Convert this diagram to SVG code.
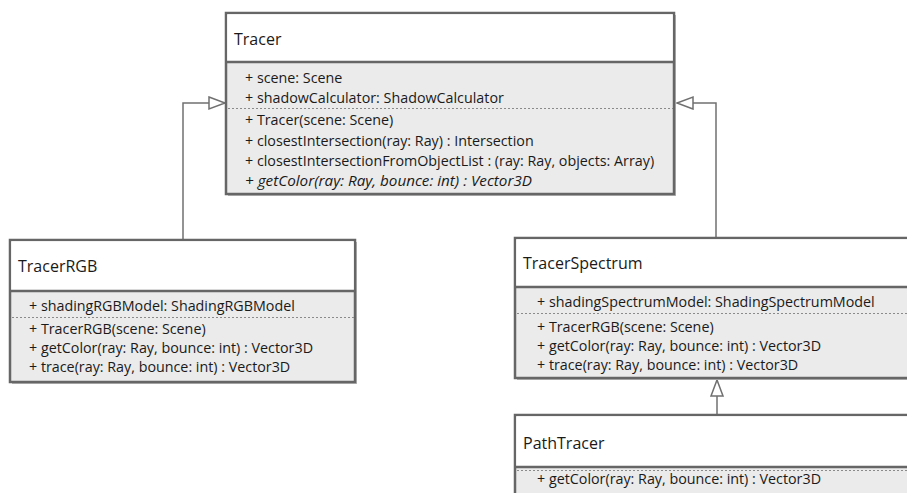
<svg xmlns="http://www.w3.org/2000/svg" width="907" height="493" viewBox="0 0 907 493">
  <style>
    .shadow { fill: #b8b8b8; }
    .box { fill: #ebebeb; stroke: #666666; stroke-width: 2.5; }
    .head { fill: #ffffff; }
    .sep { stroke: #666666; stroke-width: 2.5; }
    .dash { stroke: #8a8a8a; stroke-width: 1; stroke-dasharray: 2 2; }
    .title { font-family: "Open Sans", "Liberation Sans", Arial, sans-serif; font-size: 16px; fill: #1a1a1a; }
    .mem { font-family: "Open Sans", "Liberation Sans", Arial, sans-serif; font-size: 14.3px; fill: #1a1a1a; }
    .it { font-style: italic; }
    .conn { fill: none; stroke: #707070; stroke-width: 1.5; }
  </style>
  <defs>
    <marker id="gen" viewBox="-1 -1 18 14" refX="16" refY="6" markerWidth="18" markerHeight="14" markerUnits="userSpaceOnUse" orient="auto" overflow="visible">
      <path d="M0,0 L16,6 L0,12 Z" fill="#ffffff" stroke="#707070" stroke-width="1.5"/>
    </marker>
  </defs>

  <g id="connectors">
    <path class="conn" d="M183,240 V103 H225" marker-end="url(#gen)"/>
    <path class="conn" d="M716,238 V103 H677" marker-end="url(#gen)"/>
    <path class="conn" d="M717,415 V380" marker-end="url(#gen)"/>
  </g>

  <g id="Tracer">
    <rect class="shadow" x="228" y="15" width="448" height="181"/>
    <rect class="box" x="226" y="13" width="448" height="181"/>
    <rect class="head" x="227.25" y="14.25" width="445.5" height="47.75"/>
    <line class="sep" x1="226" y1="62" x2="674" y2="62"/>
    <text class="title" x="234" y="45">Tracer</text>
    <text class="mem" x="245" y="83">+ scene: Scene</text>
    <text class="mem" x="245" y="103">+ shadowCalculator: ShadowCalculator</text>
    <line class="dash" x1="228" y1="108.5" x2="673" y2="108.5"/>
    <text class="mem" x="245" y="125">+ Tracer(scene: Scene)</text>
    <text class="mem" x="245" y="146">+ closestIntersection(ray: Ray) : Intersection</text>
    <text class="mem" x="245" y="166">+ closestIntersectionFromObjectList : (ray: Ray, objects: Array)</text>
    <text class="mem it" x="245" y="186" textLength="287" lengthAdjust="spacingAndGlyphs">+ getColor(ray: Ray, bounce: int) : Vector3D</text>
  </g>

  <g id="TracerRGB">
    <rect class="shadow" x="12" y="242" width="345" height="142"/>
    <rect class="box" x="10" y="240" width="345" height="142"/>
    <rect class="head" x="11.25" y="241.25" width="342.5" height="49.75"/>
    <line class="sep" x1="10" y1="291" x2="355" y2="291"/>
    <text class="title" x="18" y="272">TracerRGB</text>
    <text class="mem" x="29" y="311">+ shadingRGBModel: ShadingRGBModel</text>
    <line class="dash" x1="12" y1="317.5" x2="354" y2="317.5"/>
    <text class="mem" x="29" y="334">+ TracerRGB(scene: Scene)</text>
    <text class="mem" x="29" y="353">+ getColor(ray: Ray, bounce: int) : Vector3D</text>
    <text class="mem" x="29" y="372">+ trace(ray: Ray, bounce: int) : Vector3D</text>
  </g>

  <g id="TracerSpectrum">
    <rect class="shadow" x="517" y="240" width="400" height="140"/>
    <rect class="box" x="515" y="238" width="400" height="140"/>
    <rect class="head" x="516.25" y="239.25" width="397.5" height="47.75"/>
    <line class="sep" x1="515" y1="287" x2="915" y2="287"/>
    <text class="title" x="523" y="269">TracerSpectrum</text>
    <text class="mem" x="537" y="307">+ shadingSpectrumModel: ShadingSpectrumModel</text>
    <line class="dash" x1="517" y1="313.5" x2="915" y2="313.5"/>
    <text class="mem" x="537" y="332">+ TracerRGB(scene: Scene)</text>
    <text class="mem" x="537" y="351">+ getColor(ray: Ray, bounce: int) : Vector3D</text>
    <text class="mem" x="537" y="370">+ trace(ray: Ray, bounce: int) : Vector3D</text>
  </g>

  <g id="PathTracer">
    <rect class="shadow" x="517" y="417" width="400" height="100"/>
    <rect class="box" x="515" y="415" width="400" height="100"/>
    <rect class="head" x="516.25" y="416.25" width="397.5" height="50.75"/>
    <line class="sep" x1="515" y1="467" x2="915" y2="467"/>
    <text class="title" x="523" y="449">PathTracer</text>
    <line class="dash" x1="517" y1="470.5" x2="915" y2="470.5"/>
    <text class="mem" x="537" y="484">+ getColor(ray: Ray, bounce: int) : Vector3D</text>
  </g>
</svg>
